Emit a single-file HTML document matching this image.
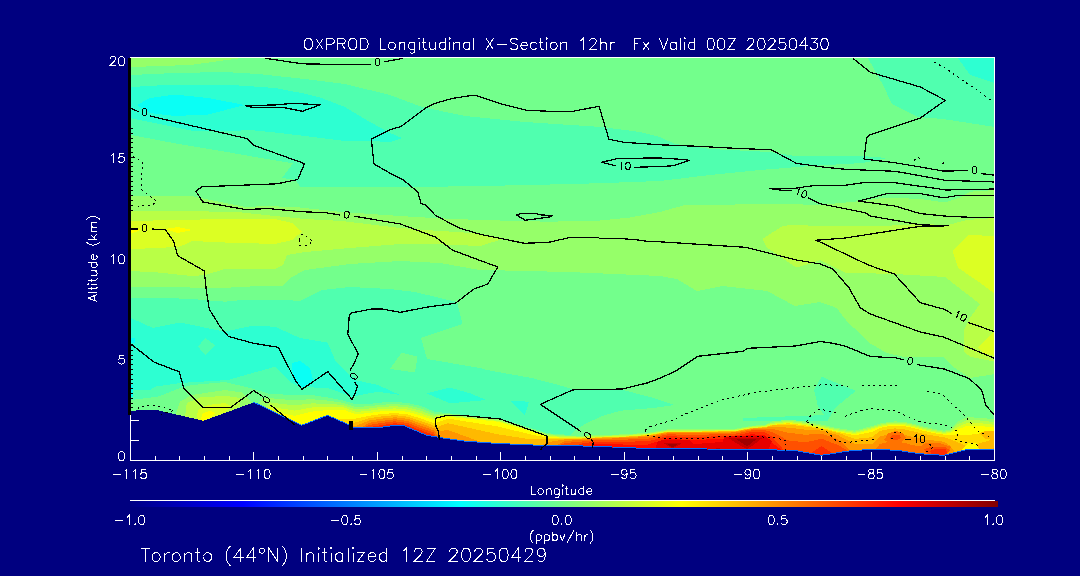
<!DOCTYPE html><html><head><meta charset="utf-8"><title>OXPROD X-Section</title>
<style>html,body{margin:0;padding:0;background:#000080;overflow:hidden}svg{display:block}text{font-family:"Liberation Sans",sans-serif;fill:#fff}</style></head><body>
<svg width="1080" height="576" viewBox="0 0 1080 576">
<rect x="0" y="0" width="1080" height="576" fill="#000080"/>
<defs><clipPath id="pc"><rect x="131" y="58" width="863" height="402"/></clipPath>
<linearGradient id="cb" x1="0" x2="1" y1="0" y2="0">
<stop offset="0" stop-color="#000083"/>
<stop offset="0.13" stop-color="#0000ff"/>
<stop offset="0.38" stop-color="#00ffff"/>
<stop offset="0.635" stop-color="#ffff00"/>
<stop offset="0.885" stop-color="#ff0000"/>
<stop offset="1" stop-color="#800000"/>
</linearGradient></defs>
<g clip-path="url(#pc)" shape-rendering="crispEdges">
<rect x="131" y="58" width="864" height="402" fill="#73ff8c"/>
<polygon fill="#96ff69" points="131,58 242,58 190,65 131,67"/>
<polygon fill="#50ffaf" points="131,75 175,73 225,72 258,74 305,79 345,84 390,95 422,107 465,116 525,122 602,127 640,132 660,137 675,144 710,149 770,152 795,156 862,156 887,158 863,163 810,166 760,170 710,175 660,181 597,183.3 530,185 480,186 415,187 350,187 300,187 296,180 282,178 293,163.3 258,157.5 225,151.7 175,143.3 131,135"/>
<polygon fill="#2dffd2" points="131,87 175,84.5 225,84.5 275,88 305,93.7 320,97.5 345,107 370,122 390,133 402,138 390,142 370,141 345,141 305,136 275,132.5 250,130 232,131 210,131 192,130.8 160,124 131,118.3"/>
<polygon fill="#0afff5" points="137,105 150,98 175,94.5 208,98 245,105 208,114.5 175,116 150,113"/>
<polygon fill="#50ffaf" points="868,58 883,85 892,104 918,117 943,119 995,127 995,58"/>
<polygon fill="#2dffd2" points="958,58 970,75 995,83 995,58"/>
<polygon fill="#96ff69" points="131,196 192,196 200,198 225,203 245,207 268,206 300,207.5 342,212 400,216 433,218 480,220 547,221.7 597,220.8 630,217.5 660,212 685,205 785,204 820,205 858,201.3 887,197.5 920,199 945,202.5 962,196.7 970,191.7 995,190 995,374 970,378 953,366.7 943,356.7 903,356.7 886.7,353 870,343.3 846.7,321 836.7,308 820,302 795,306 767,291 722,286 697,291 677,279 660,276 580,272.5 530,271 480,270 440,263 400,261 350,264 305,270 290,278 283,285.8 241.7,286.7 225,288 205,288 166.7,286.7 131,287.5"/>
<polygon fill="#b9ff46" points="131,211 192,211 242,212.5 275,216 305,219 342,221 400,228 433,230.5 480,233.5 503,239 480,246 433,244 400,244 350,248 305,252 287,255 283,265 275,269 225,269 205,275 192,276 158,272.5 131,271"/>
<polygon fill="#b9ff46" points="762.5,239 782.5,226 795,224.5 820,226.5 887,225.8 920,224 948,225 967,220 995,218 995,361.7 970,356.7 964,351.7 964,330 970,318 980,304 945,277 895,274 845,272.7 820,260 810,263.7 796,267.5 767,247.5"/>
<polygon fill="#dcff23" points="952.5,251 968,235 995,236 995,294 981.7,284 958,267.7"/>
<polygon fill="#dcff23" points="995,330 978,347 983,353 995,356"/>
<polygon fill="#dcff23" points="131,221 175,220 225,219 275,219 292,223 302,231.7 292,240 275,244 225,242.5 192,241 180,246.7 158,248 131,249"/>
<polygon fill="#ffff00" points="165,229 178,227 192,230 178,233"/>
<polygon fill="#ffff00" points="131,228.3 141,228.6 139,231 134,232.6 131,232.6"/>
<polygon fill="#50ffaf" points="131,297.5 166.7,298 191.7,299 225,301.7 241.7,300 285,300 300,301 322,290 350,287 390,289 415,292 457,302 462.5,324 421,338 427,359 480,368 486.7,370 531.7,378 565,386.7 573,389.7 623,390 650,397 675,405 653,408 620,410.8 603,415.8 586.7,423 575,430 568,437 568,455 131,455"/>
<polygon fill="#2dffd2" points="131,318 153,328 180,322.5 225,331.7 251.7,325.8 275,326.7 300,338 327.5,342.5 335.8,361.7 350,375 355,380 378,385 400,395 378,391.7 351.7,396.7 328,388 300,387 291.7,383 281.7,373 275,366.7 228,380 180,383 155,386.7 150,390 131,390"/>
<polygon fill="#0afff5" points="292,363 300,361 310,368 313,380 303,388 293,380"/>
<polygon fill="#0afff5" points="131,338 135,338 135,343 131,343"/>
<polygon fill="#0afff5" points="131,385 133,385 133,397 131,397"/>
<polygon fill="#50ffaf" points="198,346.7 205,338 215,345 205,355"/>
<polygon fill="#73ff8c" points="390,369 401.7,352.5 417.5,356.7 415,372.5"/>
<polygon fill="#2dffd2" points="426.7,393.3 450,387.5 470,393.3 486.7,400 450,403.3"/>
<polygon fill="#2dffd2" points="510,400.8 529,401.7 525,415"/>
<polygon fill="#50ffaf" points="814,390 821.7,376.7 855.8,390.8 835,408 828,420 818,406.7"/>
<polygon fill="#50ffaf" points="743,418 828,415 828,421 800,421.5 743,420.5"/>
<polygon fill="#73ff8c" points="131,400 158,396.7 180,388 192,385 225,382 250,388 270,394 295,395 311.7,395 328,397.5 343,400.5 356,404.5 369,404 382,402.5 395,402 408,403 421,406 434,411.5 448,413.3 498,418.3 531.7,428.3 548,433.3 565,434.6 595,434.5 623,433.7 648,432 662,431 662,461 131,461"/>
<polygon fill="#96ff69" points="256,407.8 262,398.3 270,398.1 278,399 295,400.2 311.7,399.2 328,400.6 343,402.8 356,407 369,406.2 382,404.7 395,404.1 408,405.2 421,408.4 434,413.7 438,413.5 448,414.1 498,419.1 531.7,429.1 548,434.1 565,435.5 581.7,435.8 595,435.2 623,434.4 648,432.8 668,429.4 690,429.4 735,428.8 751.7,425.8 765,424.8 771.7,421.6 788,419.6 805,421.6 821.7,424.6 838,428.3 855,430.6 871.7,426.1 880,423.6 888,422.1 895,421.4 905,422.1 913,423.6 923.7,426.6 935,429.1 944,430.6 950,429.6 958,421.2 967.5,417.2 980,417.8 995,419.4 995,462 256,462"/>
<polygon fill="#b9ff46" points="256,407.8 262,410.7 270,402.3 278,403.5 295,405.4 311.7,403.4 328,403.8 343,405 356,409.4 369,408.5 382,406.9 395,406.2 408,407.4 421,410.9 434,415.9 438,415 448,415 498,420 531.7,430 548,435 565,436.3 581.7,436.6 595,436 623,435.2 648,433.5 668,430.2 690,430.2 735,429.5 751.7,426.5 765,425.5 771.7,422.8 788,420.8 805,422.8 821.7,425.8 838,429.4 855,431.8 871.7,427.2 880,424.8 888,423.2 895,422.6 905,423.2 913,424.8 923.7,427.8 935,430.2 944,431.8 950,430.8 958,424 967.5,420 980,420.5 995,422.1 995,462 256,462"/>
<polygon fill="#dcff23" points="256,407.8 262,410.7 270,406.4 278,408 295,410.6 311.7,407.5 328,406.9 343,407.2 356,411.9 369,410.8 382,409 395,408.4 408,409.6 421,413.3 434,418.1 438,416.5 448,415.9 498,420.9 531.7,430.9 548,435.9 565,437.1 581.7,437.4 595,436.8 623,435.9 648,434.2 668,430.9 690,430.9 735,430.2 751.7,427.2 765,426.2 771.7,423.9 788,421.9 805,423.9 821.7,426.9 838,430.6 855,432.9 871.7,428.4 880,425.9 888,424.4 895,423.7 905,424.4 913,425.9 923.7,428.9 935,431.4 944,432.9 950,431.9 958,426.8 967.5,422.8 980,423.2 995,424.9 995,462 256,462"/>
<polygon fill="#ffff00" points="256,407.8 262,410.7 270,414.5 278,412.5 295,415.8 311.7,411.7 328,410 343,409.5 356,414.4 369,413 382,411.2 395,410.5 408,411.8 421,415.7 434,420.3 438,418 448,416.7 498,421.7 531.7,431.7 548,436.7 565,438 581.7,438.3 595,437.5 623,436.7 648,435 668,431.7 690,431.7 735,431 751.7,428 765,427 771.7,425 788,423 805,425 821.7,428 838,431.7 855,434 871.7,429.5 880,427 888,425.5 895,424.8 905,425.5 913,427 923.7,430 935,432.5 944,434 950,433 958,429.5 967.5,425.5 980,426 995,427.6 995,462 256,462"/>
<polygon fill="#ffdc00" points="256,407.8 262,410.7 270,414.5 278,418.4 295,426.6 311.7,425.9 328,420 343,418.9 356,418.6 369,415.8 382,414 395,413 408,414.5 421,418.6 434,423.2 438,422.4 448,418.6 498,426.5 531.7,434.7 548,437.5 565,438.1 581.7,438.3 595,437.5 623,436.7 648,435 668,431.7 690,431.7 735,431 751.7,428 765,427 771.7,425.1 788,423.3 805,425.3 821.7,428.1 838,431.9 855,435.4 871.7,432 880,428 888,426.3 895,425.6 905,426.4 913,428 923.7,430.9 935,433.3 944,434.7 950,434.8 958,434.4 967.5,435.1 980,433.3 995,431.6 995,462 256,462"/>
<polygon fill="#ffb900" points="256,407.8 262,410.7 270,414.5 278,418.4 295,426.6 311.7,425.9 328,420 343,426.7 356,422.3 369,418.2 382,416.3 395,415.2 408,416.8 421,421.1 434,425.7 438,426.7 448,423.2 498,434.3 531.7,439.5 548,439.4 565,438.5 581.7,438.5 595,437.7 623,436.9 648,435.3 668,431.9 690,432 735,431.2 751.7,428.2 765,427.3 771.7,425.5 788,424.6 805,426.6 821.7,428.8 838,432.9 855,438.9 871.7,437.2 880,431.1 888,429.2 895,428.4 905,429.5 913,431.3 923.7,434 935,435.9 944,437.3 950,439.1 958,442.4 967.5,446.5 980,443.2 995,438.6 995,462 256,462"/>
<polygon fill="#ff9600" points="256,407.8 262,410.7 270,414.5 278,418.4 295,426.6 311.7,425.9 328,420 343,426.7 356,425.8 369,420.5 382,418.6 395,417.3 408,418.9 421,423.5 434,428.1 438,431.1 448,430.1 498,448 531.7,449.4 548,442.2 565,439.4 581.7,439.1 595,438.1 623,437.4 648,435.9 668,432.3 690,432.5 735,431.6 751.7,428.6 765,427.8 771.7,426.6 788,427.6 805,429.6 821.7,430.6 838,435.2 855,444.2 871.7,444.5 880,436.4 888,434.4 895,433.5 905,435 913,437 923.7,439.3 935,440.6 944,441.8 950,445.7 958,456.3 967.5,454 980,453.9 995,447.7 995,462 256,462"/>
<polygon fill="#ff7300" points="256,407.8 262,410.7 270,414.5 278,418.4 295,426.6 311.7,425.9 328,420 343,426.7 356,431.5 369,422.8 382,420.8 395,419.3 408,421 421,425.9 434,430.4 438,435.5 448,443.2 498,448 531.7,449.4 548,449.9 565,440.9 581.7,440 595,438.8 623,438.3 648,437 668,433 690,433.5 735,432.4 751.7,429.3 765,428.8 771.7,428.6 788,432.7 805,434.7 821.7,433.8 838,439.2 855,455 871.7,453.7 880,443.9 888,442 895,441.1 905,443 913,445.2 923.7,447.1 935,447.5 944,448.4 950,458.3 958,456.3 967.5,454 980,453.9 995,453.7 995,462 256,462"/>
<polygon fill="#ff5000" points="256,407.8 262,410.7 270,414.5 278,418.4 295,426.6 311.7,425.9 328,420 343,426.7 356,431.5 369,424.9 382,422.9 395,421.3 408,423.1 421,428.1 434,432.6 438,441.7 448,443.2 498,448 531.7,449.4 548,449.9 565,443.1 581.7,441.5 595,440 623,439.7 648,438.8 668,434.2 690,435.1 735,433.7 751.7,430.4 765,430.3 771.7,431.8 788,440.4 805,442.3 821.7,438.8 838,445 855,455 871.7,453.7 880,454.1 888,454.4 895,454.7 905,456 913,457.2 923.7,458.5 935,459.2 944,459.8 950,458.3 958,456.3 967.5,454 980,453.9 995,453.7 995,462 256,462"/>
<polygon fill="#ff2d00" points="256,407.8 262,410.7 270,414.5 278,418.4 295,426.6 311.7,425.9 328,420 343,426.7 356,431.5 369,427.1 382,425 395,423.2 408,425.1 421,430.3 434,434.8 438,441.7 448,443.2 498,448 531.7,449.4 548,449.9 565,450.2 581.7,443.6 595,441.6 623,441.7 648,441.3 668,435.9 690,437.4 735,435.5 751.7,432 765,432.5 771.7,436.3 788,454.9 805,456.8 821.7,446.1 838,457.1 855,455 871.7,453.7 880,454.1 888,454.4 895,454.7 905,456 913,457.2 923.7,458.5 935,459.2 944,459.8 950,458.3 958,456.3 967.5,454 980,453.9 995,453.7 995,462 256,462"/>
<polygon fill="#ff0a00" points="256,407.8 262,410.7 270,414.5 278,418.4 295,426.6 311.7,425.9 328,420 343,426.7 356,431.5 369,431.5 382,427.1 395,425.1 408,427.1 421,432.5 434,441 438,441.7 448,443.2 498,448 531.7,449.4 548,449.9 565,450.2 581.7,450.5 595,443.8 623,444.5 648,444.6 668,438.1 690,440.4 735,437.9 751.7,434.2 765,435.5 771.7,442.4 788,454.9 805,456.8 821.7,459.8 838,457.1 855,455 871.7,453.7 880,454.1 888,454.4 895,454.7 905,456 913,457.2 923.7,458.5 935,459.2 944,459.8 950,458.3 958,456.3 967.5,454 980,453.9 995,453.7 995,462 256,462"/>
<polygon fill="#e60000" points="256,407.8 262,410.7 270,414.5 278,418.4 295,426.6 311.7,425.9 328,420 343,426.7 356,431.5 369,431.5 382,431.5 395,429.8 408,431.9 421,437.4 434,441 438,441.7 448,443.2 498,448 531.7,449.4 548,449.9 565,450.2 581.7,450.5 595,450.7 623,452 648,453 668,441.1 690,444.4 735,441 751.7,437 765,439.3 771.7,454.3 788,454.9 805,456.8 821.7,459.8 838,457.1 855,455 871.7,453.7 880,454.1 888,454.4 895,454.7 905,456 913,457.2 923.7,458.5 935,459.2 944,459.8 950,458.3 958,456.3 967.5,454 980,453.9 995,453.7 995,462 256,462"/>
<polygon fill="#c30000" points="256,407.8 262,410.7 270,414.5 278,418.4 295,426.6 311.7,425.9 328,420 343,426.7 356,431.5 369,431.5 382,431.5 395,429.8 408,431.9 421,437.4 434,441 438,441.7 448,443.2 498,448 531.7,449.4 548,449.9 565,450.2 581.7,450.5 595,450.7 623,452 648,453 668,444.7 690,453.4 735,445 751.7,440.5 765,444.1 771.7,454.3 788,454.9 805,456.8 821.7,459.8 838,457.1 855,455 871.7,453.7 880,454.1 888,454.4 895,454.7 905,456 913,457.2 923.7,458.5 935,459.2 944,459.8 950,458.3 958,456.3 967.5,454 980,453.9 995,453.7 995,462 256,462"/>
<polygon fill="#a00000" points="256,407.8 262,410.7 270,414.5 278,418.4 295,426.6 311.7,425.9 328,420 343,426.7 356,431.5 369,431.5 382,431.5 395,429.8 408,431.9 421,437.4 434,441 438,441.7 448,443.2 498,448 531.7,449.4 548,449.9 565,450.2 581.7,450.5 595,450.7 623,452 648,453 668,453.2 690,453.4 735,453.7 751.7,444.8 765,454 771.7,454.3 788,454.9 805,456.8 821.7,459.8 838,457.1 855,455 871.7,453.7 880,454.1 888,454.4 895,454.7 905,456 913,457.2 923.7,458.5 935,459.2 944,459.8 950,458.3 958,456.3 967.5,454 980,453.9 995,453.7 995,462 256,462"/>
<polygon fill="#96ff69" points="175,416 180,401.7 191.7,395 225,390 241.7,392.5 251.7,402.5 240,410 203,421"/>
<polygon fill="#b9ff46" points="185,417.5 186.7,403 200,397.5 225,395.8 240,398 240,406.7 233,410 203,421"/>
<polygon fill="#dcff23" points="196.7,419 198,410 208,405 225,403 231.7,406.7 225,412.5 203,421"/>
<polygon fill="#ffff00" points="201,420 202,414 210,410.5 215,413 212,417 203,421"/>
<polygon fill="#e60000" points="655,449 658,441 668,439.5 690,440 697,449"/>
<polygon fill="#c30000" points="662,442.5 683,442.5 672.5,448.5"/>
<polygon fill="#e60000" points="720,450 724,437.5 735,435.5 765,436 772,441 768,450"/>
<polygon fill="#c30000" points="727.4,437.5 763,437.5 752,446 746.7,449 741,446"/>
<polygon fill="#a00000" points="735,438.5 757,438.5 747,446.5"/>
<polygon fill="#ff7300" points="884,440 888,433.5 896,431 903,433 906,438 900,443 890,443.5"/>
<polygon fill="#ff5000" points="889,438 893,434.5 899,434.5 901,438 896,440.5"/>
<polygon fill="#ff7300" points="918,448 925,443.5 940,443 951,447 949,452 944,456 925,455"/>
<polygon fill="#ff5000" points="924,449.5 931,446.5 945,447 950,450 944,456 928,455"/>
<polygon fill="#ff2d00" points="930,451 936,448.5 946,449.5 947,453 944,456 932,455"/>
<polygon fill="#ffff00" points="962,449.5 968,443 977,443.5 979,450"/>
<polygon fill="#ffb900" points="979,433 986,431 995,431.5 995,440 985,439"/>
<polygon fill="#a00000" points="666,443.5 679,443.5 672.5,447.5"/>
</g>
<polyline shape-rendering="crispEdges" fill="none" stroke="#0a70ff" stroke-width="1" points="253.3,402 301.7,425.3 327.5,415.3 350,425.3 351.7,427 383,427 395,425.3 403,425.3 415,430.3 426.7,435.3 440,437.5 465,441.2 498,443.5 540,445.3 595,446.2 623,447.5 648,448.5 765,449.5 796.7,450.8 821.7,455.3 846.7,451.2 871.7,449.2 896.7,450.3 920.8,453.8 944,455.3 967.5,449.5 995,449.2"/>
<polygon shape-rendering="crispEdges" fill="#000080" points="131,410.8 145,410 158.3,410.3 203.5,420.8 253.3,402.5 301.7,425.8 327.5,415.8 350,425.8 351.7,427.5 383,427.5 395,425.8 403,425.8 415,430.8 426.7,435.8 440,438 465,441.7 498,444 540,445.8 595,446.7 623,448 648,449 765,450 796.7,451.3 821.7,455.8 846.7,451.7 871.7,449.7 896.7,450.8 920.8,454.3 944,455.8 967.5,450 995,449.7 994,460 131,460"/>
<g fill="none" stroke="#000" stroke-width="1.25" stroke-linejoin="round" shape-rendering="crispEdges" clip-path="url(#pc)"><g transform="translate(0.3,0.3)">
<polyline points="265,58 302,63.5 355,64.5 371,64.5"/>
<polyline points="384,61.5 403,58"/>
<polyline points="245,105.5 278,104.5 292,103 320,104.5 302,111 282,107 252,107 245,105.5"/>
<polyline points="131,228.7 138,228.7"/>
<polyline points="151.7,228.7 165,229.5 173.3,240.8 177.5,255.5 204,270.5 206,290 209,309 220,326.7 228,336 253,343 278,347 295,380 301.7,389 327.5,371.3 351.7,399 355,393 357,386 354.5,382"/>
<polyline points="349.7,370 353.3,364 358,353.7 347.5,334 349,315 351.7,312.5 371.7,308.7 381.7,308.7 400,312 427.5,306.7 455,303 473.7,288.7 487.5,283.7 497.5,266.7 452.5,250 435,236.7 400,223.7 353.3,215.8"/>
<polyline points="340,214.7 325.8,212.5 300,211.3 268.3,208.3 245,209.2 202.5,201.7 195.5,190.8 201.7,186.5 276.7,183.5 297.5,179.2 304.2,163.3 253.3,145 246.7,138.3 150,115.8"/>
<polyline points="139,111.7 131,108.3"/>
<polyline points="131,344 154,362 179,371.5 183.3,387.5 203.3,407.5 230,407.5 253.3,390.3 263,396.5"/>
<polyline points="270,404.5 295,425"/>
<polyline points="995,181.7 945,180 895,171 845,169 822.5,166.7 796,163 771,149.5 735,148 697.5,146 660,144.5 623.7,142 608.7,139 598.7,106 572.5,111 550,111 526,110 501,103.7 477.5,95.7 472.5,95 452.5,98 435,103 425,108 401,126 390,129.5 371,138.7 373.7,163.7 390,173 403.5,180 417.5,191.7 420.8,203.3 425.8,205 435,215 458.3,227.5 480,234 524,243 548.3,242 568.3,237.5 598.3,237.5 600,238.3 621.7,238.3 638.3,239.7 648.3,241.3 660,241.5 745,247 795,259.5 820,263.7 832.5,268.7 848.7,287.5 860,307.5 870,313.7 920,331.7 943,336.7 995,358.3"/>
<polyline points="634,167 660,166.2 672.5,165.5 689,160 680,159 660,157.7 618.7,158 601,162 613,165 616,165.5"/>
<polyline points="516.3,214.7 520.8,213.3 536.7,213.3 539,214.5 552.5,215.3 549,216.7 525,220 516.3,214.7"/>
<polyline points="852.5,58 870,72 920,86.7 945,100 920,117.8 868.3,135 866.3,138 863.7,158.7 895,162.5 920,166.7 943.3,170.8 967.5,170.3"/>
<polyline points="980.8,173.3 995,175"/>
<polyline points="995,188.7 945,189.7 936.7,188.3 895,182.5 862.5,182.5 845,185 812.6,185.4 804.4,186.5 794.8,188 769.6,188.3 780,189.8 791.5,190.5"/>
<polyline points="807.5,197.5 820,203.5 865,212.5 870,215.7 920,224.5 948,225.5 920,226 845,237.7 815,240 820,241.8 868.7,265 894,273.6 920,302.4 944,309 952,313.5"/>
<polyline points="967.5,322 995,331.7"/>
<polyline points="995,195 958.3,195 943.3,197.5 920,193.3 886.7,193.3 858.3,200.8 895,205.8 920,213.3 945,215.8 970,217 995,217.5"/>
<polyline points="592,448 593,442 590.5,439"/>
<polyline points="581,431.5 540,404 572.5,389.6 622.5,388.7 647.5,382.5 660,377.7 675,371 697.5,356 742.5,351 747.5,348 795,345.7 820,341.2 832.5,343 845,345.8 870,356.2 895,357.5 904,359.7"/>
<polyline points="916.5,364.3 944,368.7 969,378.3 981.5,390 985.5,405 993.5,414"/>
<polyline points="439,440 438.3,431.7 435.8,426.7 435,418 445.8,415.3 463.3,415.3 486.7,417.5 500,418.7 546.7,435.8 546.7,443.3 541.7,447.5 540,450"/>
</g></g>
<g fill="none" stroke="#000" stroke-width="1" stroke-dasharray="2,3.5" shape-rendering="crispEdges">
<polyline points="133,156.7 142.5,161.7 141,185 141.7,190 156.7,201.3 152.5,204.7 137.5,206.3"/>
<polyline points="299,240 302,234 309,238 313,241.5 307,245 300,246 299,240"/>
<polyline points="934,62 947,69 959,78 976.5,89.5 993,102"/>
<polyline points="914,160.3 918.3,157 921.7,162"/>
<polyline points="941.7,163.3 946.7,162.5"/>
<polyline points="138.5,409 138.5,406.7 153,405.3 164,407 173.3,410.5 160.8,414.5"/>
<polyline points="645,430 650,426.7 673,420 683,415 701.7,407.5 725,399 740,395.8 758,392 784,389 803,387 824,384.5 848,386.3"/>
<polyline points="862.5,385.5 898,386"/>
<polyline points="927.4,391.2 942,394.3 953,405 964.5,415.3 977,430.3 990.8,437.6"/>
<polyline points="645,430 647.5,435 663.3,438.3 697.5,439 723.3,436.3 753.3,436.3 776.7,438 786.7,440.8 785,448.3 785.8,452.5"/>
<polyline points="806.7,421.7 809,417.5 817.5,410 822.5,409.5 836.7,413.3"/>
<polyline points="845,416.3 860,410.8 870,408.7 894,410.5 908.3,416.7 921.7,422.5 941.2,424.2 951.4,427.4 958.7,432.2 955.8,440 971,443.4 981.3,446.3"/>
<polyline points="806.7,421.7 816.7,427.5 826.7,431.7 833.3,437.5 836.7,441.3 846.7,442.5 866.7,440.3 876.7,439"/>
<polyline points="929.6,444 933.2,447.3 926,452.4"/>
<polyline points="894,432.5 901,432.5"/>
<polyline points="891,438.3 897,438.3"/>
</g>
<rect shape-rendering="crispEdges" x="349" y="421" width="4" height="9" fill="#000"/>
<g shape-rendering="crispEdges" fill="#fff">
<rect x="130" y="57" width="865" height="1"/>
<rect x="130" y="460" width="865" height="1"/>
<rect x="994" y="57" width="1" height="404"/>
<rect x="130" y="57" width="1" height="404"/>
<rect x="130" y="452" width="1" height="8"/>
<rect x="155" y="456" width="1" height="4"/>
<rect x="179" y="456" width="1" height="4"/>
<rect x="204" y="456" width="1" height="4"/>
<rect x="229" y="456" width="1" height="4"/>
<rect x="253" y="452" width="1" height="8"/>
<rect x="278" y="456" width="1" height="4"/>
<rect x="303" y="456" width="1" height="4"/>
<rect x="327" y="456" width="1" height="4"/>
<rect x="352" y="456" width="1" height="4"/>
<rect x="377" y="452" width="1" height="8"/>
<rect x="402" y="456" width="1" height="4"/>
<rect x="426" y="456" width="1" height="4"/>
<rect x="451" y="456" width="1" height="4"/>
<rect x="476" y="456" width="1" height="4"/>
<rect x="500" y="452" width="1" height="8"/>
<rect x="525" y="456" width="1" height="4"/>
<rect x="550" y="456" width="1" height="4"/>
<rect x="574" y="456" width="1" height="4"/>
<rect x="599" y="456" width="1" height="4"/>
<rect x="624" y="452" width="1" height="8"/>
<rect x="648" y="456" width="1" height="4"/>
<rect x="673" y="456" width="1" height="4"/>
<rect x="698" y="456" width="1" height="4"/>
<rect x="722" y="456" width="1" height="4"/>
<rect x="747" y="452" width="1" height="8"/>
<rect x="772" y="456" width="1" height="4"/>
<rect x="797" y="456" width="1" height="4"/>
<rect x="821" y="456" width="1" height="4"/>
<rect x="846" y="456" width="1" height="4"/>
<rect x="871" y="452" width="1" height="8"/>
<rect x="895" y="456" width="1" height="4"/>
<rect x="920" y="456" width="1" height="4"/>
<rect x="945" y="456" width="1" height="4"/>
<rect x="969" y="456" width="1" height="4"/>
<rect x="994" y="452" width="1" height="8"/>
<rect x="131" y="460" width="16" height="1"/>
<rect x="131" y="440" width="8" height="1"/>
<rect x="131" y="420" width="8" height="1"/>
</g>
<rect shape-rendering="crispEdges" x="128" y="58" width="3" height="357" fill="#000"/>
<g shape-rendering="crispEdges" stroke="#000" stroke-width="2" stroke-dasharray="1,3.8" fill="none"><path d="M132 128V212M132 345V411"/></g>
<rect shape-rendering="crispEdges" x="130" y="501" width="868" height="6" fill="url(#cb)"/>
<rect shape-rendering="crispEdges" x="130" y="500" width="865" height="1" fill="#fff"/>
<g fill="none" stroke="#fff" stroke-width="1" shape-rendering="crispEdges">
<path d="M304.2 42.6L304.2 45.3L304.7 46.9L305.2 47.9L306.3 49.0L307.3 49.5L309.5 49.5L310.5 49.0L311.6 47.9L312.1 46.9L312.6 45.3L312.6 42.6L312.1 41.1L311.6 40.0L310.5 39.0L309.5 38.4L307.3 38.4L306.3 39.0L305.2 40.0L304.7 41.1L304.2 42.6M315.8 38.4L323.2 49.5M315.8 49.5L323.2 38.4M326.9 44.2L326.9 38.4L331.6 38.4L333.2 39.0L333.7 39.5L334.2 40.5L334.2 42.1L333.7 43.2L333.2 43.7L331.6 44.2L326.9 44.2M326.9 44.2L326.9 49.5M337.9 43.7L337.9 38.4L342.7 38.4L344.2 39.0L344.8 39.5L345.3 40.5L345.3 41.6L344.8 42.6L344.2 43.2L342.7 43.7L341.6 43.7M337.9 43.7L337.9 49.5M337.9 43.7L341.6 43.7M341.6 43.7L345.3 49.5M348.5 42.6L348.5 45.3L349.0 46.9L349.5 47.9L350.6 49.0L351.6 49.5L353.7 49.5L354.8 49.0L355.8 47.9L356.4 46.9L356.9 45.3L356.9 42.6L356.4 41.1L355.8 40.0L354.8 39.0L353.7 38.4L351.6 38.4L350.6 39.0L349.5 40.0L349.0 41.1L348.5 42.6M360.6 38.4L360.6 49.5L364.3 49.5L365.9 49.0L366.9 47.9L367.4 46.9L368.0 45.3L368.0 42.6L367.4 41.1L366.9 40.0L365.9 39.0L364.3 38.4L360.6 38.4M380.1 38.4L380.1 49.5L386.4 49.5M388.5 45.3L388.5 46.3L389.1 47.9L390.1 49.0L391.2 49.5L392.8 49.5L393.8 49.0L394.9 47.9L395.4 46.3L395.4 45.3L394.9 43.7L393.8 42.6L392.8 42.1L391.2 42.1L390.1 42.6L389.1 43.7L388.5 45.3M399.1 42.1L399.1 44.2M399.1 44.2L399.1 49.5M399.1 44.2L400.7 42.6L401.7 42.1L403.3 42.1L404.3 42.6L404.9 44.2L404.9 49.5M410.1 52.7L411.2 53.2L412.8 53.2L413.8 52.7L414.4 52.1L414.9 50.6L414.9 47.9M414.9 42.1L414.9 43.7M414.9 43.7L413.8 42.6L412.8 42.1L411.2 42.1L410.1 42.6L409.1 43.7L408.6 45.3L408.6 46.3L409.1 47.9L410.1 49.0L411.2 49.5L412.8 49.5L413.8 49.0L414.9 47.9M414.9 43.7L414.9 47.9M419.1 42.1L419.1 49.5M418.6 38.4L419.1 37.9L419.6 38.4L419.1 39.0L418.6 38.4M422.3 42.1L423.9 42.1M423.9 38.4L423.9 42.1M423.9 42.1L423.9 47.4L424.4 49.0L425.4 49.5L426.5 49.5M423.9 42.1L426.0 42.1M429.7 42.1L429.7 47.4L430.2 49.0L431.2 49.5L432.8 49.5L433.9 49.0L435.5 47.4M435.5 42.1L435.5 47.4M435.5 47.4L435.5 49.5M445.5 38.4L445.5 43.7M445.5 43.7L444.4 42.6L443.4 42.1L441.8 42.1L440.7 42.6L439.7 43.7L439.1 45.3L439.1 46.3L439.7 47.9L440.7 49.0L441.8 49.5L443.4 49.5L444.4 49.0L445.5 47.9M445.5 43.7L445.5 47.9M445.5 47.9L445.5 49.5M449.7 42.1L449.7 49.5M449.2 38.4L449.7 37.9L450.2 38.4L449.7 39.0L449.2 38.4M453.9 42.1L453.9 44.2M453.9 44.2L453.9 49.5M453.9 44.2L455.5 42.6L456.5 42.1L458.1 42.1L459.2 42.6L459.7 44.2L459.7 49.5M469.7 42.1L469.7 43.7M469.7 43.7L468.7 42.6L467.6 42.1L466.0 42.1L465.0 42.6L463.9 43.7L463.4 45.3L463.4 46.3L463.9 47.9L465.0 49.0L466.0 49.5L467.6 49.5L468.7 49.0L469.7 47.9M469.7 43.7L469.7 47.9M469.7 47.9L469.7 49.5M473.9 38.4L473.9 49.5M486.1 38.4L493.4 49.5M486.1 49.5L493.4 38.4M497.1 44.8L506.6 44.8M510.3 47.9L511.4 49.0L513.0 49.5L515.1 49.5L516.6 49.0L517.7 47.9L517.7 46.3L517.2 45.3L516.6 44.8L515.6 44.2L512.4 43.2L511.4 42.6L510.8 42.1L510.3 41.1L510.3 40.0L511.4 39.0L513.0 38.4L515.1 38.4L516.6 39.0L517.7 40.0M520.9 45.3L520.9 46.3L521.4 47.9L522.4 49.0L523.5 49.5L525.1 49.5L526.1 49.0L527.2 47.9M520.9 45.3L521.4 43.7L522.4 42.6L523.5 42.1L525.1 42.1L526.1 42.6L526.7 43.2L527.2 44.2L527.2 45.3L520.9 45.3M536.7 43.7L535.6 42.6L534.6 42.1L533.0 42.1L531.9 42.6L530.9 43.7L530.4 45.3L530.4 46.3L530.9 47.9L531.9 49.0L533.0 49.5L534.6 49.5L535.6 49.0L536.7 47.9M539.3 42.1L540.9 42.1M540.9 38.4L540.9 42.1M540.9 42.1L540.9 47.4L541.4 49.0L542.5 49.5L543.5 49.5M540.9 42.1L543.0 42.1M546.7 42.1L546.7 49.5M546.2 38.4L546.7 37.9L547.2 38.4L546.7 39.0L546.2 38.4M550.4 45.3L550.4 46.3L550.9 47.9L552.0 49.0L553.0 49.5L554.6 49.5L555.7 49.0L556.7 47.9L557.2 46.3L557.2 45.3L556.7 43.7L555.7 42.6L554.6 42.1L553.0 42.1L552.0 42.6L550.9 43.7L550.4 45.3M560.9 42.1L560.9 44.2M560.9 44.2L560.9 49.5M560.9 44.2L562.5 42.6L563.6 42.1L565.1 42.1L566.2 42.6L566.7 44.2L566.7 49.5M580.4 40.5L581.5 40.0L583.1 38.4L583.1 49.5M589.9 41.1L589.9 40.5L590.5 39.5L591.0 39.0L592.0 38.4L594.1 38.4L595.2 39.0L595.7 39.5L596.3 40.5L596.3 41.6L595.7 42.6L594.7 44.2L589.4 49.5L596.8 49.5M600.5 38.4L600.5 44.2M600.5 44.2L600.5 49.5M600.5 44.2L602.0 42.6L603.1 42.1L604.7 42.1L605.7 42.6L606.3 44.2L606.3 49.5M610.5 42.1L610.5 45.3M610.5 45.3L610.5 49.5M610.5 45.3L611.0 43.7L612.1 42.6L613.1 42.1L614.7 42.1M634.2 43.7L634.2 38.4L641.1 38.4M634.2 43.7L634.2 49.5M634.2 43.7L638.4 43.7M643.2 42.1L649.0 49.5M643.2 49.5L649.0 42.1M659.5 38.4L661.1 42.6M659.5 38.4L662.2 45.3M659.5 38.4L663.7 49.5M661.1 42.6L662.2 45.3M661.1 42.6L663.7 49.5M662.2 45.3L663.7 49.5M663.7 49.5L665.3 45.3M663.7 49.5L666.4 42.6M663.7 49.5L667.9 38.4M665.3 45.3L666.4 42.6M665.3 45.3L667.9 38.4M666.4 42.6L667.9 38.4M676.4 42.1L676.4 43.7M676.4 43.7L675.3 42.6L674.3 42.1L672.7 42.1L671.6 42.6L670.6 43.7L670.1 45.3L670.1 46.3L670.6 47.9L671.6 49.0L672.7 49.5L674.3 49.5L675.3 49.0L676.4 47.9M676.4 43.7L676.4 47.9M676.4 47.9L676.4 49.5M680.6 38.4L680.6 49.5M684.8 42.1L684.8 49.5M684.3 38.4L684.8 37.9L685.3 38.4L684.8 39.0L684.3 38.4M694.8 38.4L694.8 43.7M694.8 43.7L693.8 42.6L692.7 42.1L691.1 42.1L690.1 42.6L689.0 43.7L688.5 45.3L688.5 46.3L689.0 47.9L690.1 49.0L691.1 49.5L692.7 49.5L693.8 49.0L694.8 47.9M694.8 43.7L694.8 47.9M694.8 47.9L694.8 49.5M707.0 43.2L707.0 44.8L707.5 47.4L708.5 49.0L710.1 49.5L711.2 49.5L712.8 49.0L713.8 47.4L714.3 44.8L714.3 43.2L713.8 40.5L712.8 39.0L711.2 38.4L710.1 38.4L708.5 39.0L707.5 40.5L707.0 43.2M717.5 43.2L717.5 44.8L718.0 47.4L719.1 49.0L720.7 49.5L721.7 49.5L723.3 49.0L724.4 47.4L724.9 44.8L724.9 43.2L724.4 40.5L723.3 39.0L721.7 38.4L720.7 38.4L719.1 39.0L718.0 40.5L717.5 43.2M728.1 38.4L735.4 38.4L728.1 49.5L735.4 49.5M747.6 41.1L747.6 40.5L748.1 39.5L748.6 39.0L749.7 38.4L751.8 38.4L752.8 39.0L753.4 39.5L753.9 40.5L753.9 41.6L753.4 42.6L752.3 44.2L747.0 49.5L754.4 49.5M757.6 43.2L757.6 44.8L758.1 47.4L759.2 49.0L760.7 49.5L761.8 49.5L763.4 49.0L764.4 47.4L765.0 44.8L765.0 43.2L764.4 40.5L763.4 39.0L761.8 38.4L760.7 38.4L759.2 39.0L758.1 40.5L757.6 43.2M768.6 41.1L768.6 40.5L769.2 39.5L769.7 39.0L770.8 38.4L772.9 38.4L773.9 39.0L774.4 39.5L775.0 40.5L775.0 41.6L774.4 42.6L773.4 44.2L768.1 49.5L775.5 49.5M778.7 47.4L779.2 48.4L779.7 49.0L781.3 49.5L782.9 49.5L784.5 49.0L785.5 47.9L786.0 46.3L786.0 45.3L785.5 43.7L784.5 42.6L782.9 42.1L781.3 42.1L779.7 42.6L779.2 43.2L779.7 38.4L785.0 38.4M789.2 43.2L789.2 44.8L789.7 47.4L790.8 49.0L792.4 49.5L793.4 49.5L795.0 49.0L796.1 47.4L796.6 44.8L796.6 43.2L796.1 40.5L795.0 39.0L793.4 38.4L792.4 38.4L790.8 39.0L789.7 40.5L789.2 43.2M805.0 45.8L799.7 45.8L805.0 38.4L805.0 45.8M805.0 45.8L805.0 49.5M805.0 45.8L807.7 45.8M810.3 47.4L810.8 48.4L811.3 49.0L812.9 49.5L814.5 49.5L816.1 49.0L817.1 47.9L817.7 46.3L817.7 45.3L817.1 43.7L816.6 43.2L815.6 42.6L814.0 42.6L817.1 38.4L811.3 38.4M820.8 43.2L820.8 44.8L821.4 47.4L822.4 49.0L824.0 49.5L825.1 49.5L826.6 49.0L827.7 47.4L828.2 44.8L828.2 43.2L827.7 40.5L826.6 39.0L825.1 38.4L824.0 38.4L822.4 39.0L821.4 40.5L820.8 43.2"/>
<path d="M140.7 548.3L145.1 548.3M145.1 548.3L145.1 561.5M145.1 548.3L149.5 548.3M152.0 556.5L152.0 557.7L152.7 559.6L153.9 560.9L155.2 561.5L157.1 561.5L158.3 560.9L159.6 559.6L160.2 557.7L160.2 556.5L159.6 554.6L158.3 553.3L157.1 552.7L155.2 552.7L153.9 553.3L152.7 554.6L152.0 556.5M164.6 552.7L164.6 556.5M164.6 556.5L164.6 561.5M164.6 556.5L165.2 554.6L166.5 553.3L167.7 552.7L169.6 552.7M172.1 556.5L172.1 557.7L172.8 559.6L174.0 560.9L175.3 561.5L177.2 561.5L178.4 560.9L179.7 559.6L180.3 557.7L180.3 556.5L179.7 554.6L178.4 553.3L177.2 552.7L175.3 552.7L174.0 553.3L172.8 554.6L172.1 556.5M184.7 552.7L184.7 555.2M184.7 555.2L184.7 561.5M184.7 555.2L186.6 553.3L187.8 552.7L189.7 552.7L191.0 553.3L191.6 555.2L191.6 561.5M195.4 552.7L197.2 552.7M197.2 548.3L197.2 552.7M197.2 552.7L197.2 559.0L197.9 560.9L199.1 561.5L200.4 561.5M197.2 552.7L199.8 552.7M203.5 556.5L203.5 557.7L204.2 559.6L205.4 560.9L206.7 561.5L208.6 561.5L209.8 560.9L211.1 559.6L211.7 557.7L211.7 556.5L211.1 554.6L209.8 553.3L208.6 552.7L206.7 552.7L205.4 553.3L204.2 554.6L203.5 556.5M230.5 545.8L229.3 547.1L228.0 548.9L226.8 551.5L226.1 554.6L226.1 557.1L226.8 560.2L228.0 562.8L229.3 564.6L230.5 565.9M240.6 557.1L234.3 557.1L240.6 548.3L240.6 557.1M240.6 557.1L240.6 561.5M240.6 557.1L243.7 557.1M253.1 557.1L246.9 557.1L253.1 548.3L253.1 557.1M253.1 557.1L253.1 561.5M253.1 557.1L256.3 557.1M259.4 550.2L259.4 551.5L260.0 552.7L261.3 553.3L262.6 553.3L263.8 552.7L264.4 551.5L264.4 550.2L263.8 548.9L262.6 548.3L261.3 548.3L260.0 548.9L259.4 550.2M268.8 561.5L268.8 548.3L277.6 561.5L277.6 548.3M282.0 545.8L283.3 547.1L284.5 548.9L285.8 551.5L286.4 554.6L286.4 557.1L285.8 560.2L284.5 562.8L283.3 564.6L282.0 565.9M301.5 548.3L301.5 561.5M306.5 552.7L306.5 555.2M306.5 555.2L306.5 561.5M306.5 555.2L308.4 553.3L309.7 552.7L311.5 552.7L312.8 553.3L313.4 555.2L313.4 561.5M318.5 552.7L318.5 561.5M317.8 548.3L318.5 547.7L319.1 548.3L318.5 548.9L317.8 548.3M322.2 552.7L324.1 552.7M324.1 548.3L324.1 552.7M324.1 552.7L324.1 559.0L324.7 560.9L326.0 561.5L327.2 561.5M324.1 552.7L326.6 552.7M331.0 552.7L331.0 561.5M330.4 548.3L331.0 547.7L331.6 548.3L331.0 548.9L330.4 548.3M342.9 552.7L342.9 554.6M342.9 554.6L341.7 553.3L340.4 552.7L338.5 552.7L337.3 553.3L336.0 554.6L335.4 556.5L335.4 557.7L336.0 559.6L337.3 560.9L338.5 561.5L340.4 561.5L341.7 560.9L342.9 559.6M342.9 554.6L342.9 559.6M342.9 559.6L342.9 561.5M348.0 548.3L348.0 561.5M353.0 552.7L353.0 561.5M352.4 548.3L353.0 547.7L353.6 548.3L353.0 548.9L352.4 548.3M357.4 552.7L364.3 552.7L357.4 561.5L364.3 561.5M368.1 556.5L368.1 557.7L368.7 559.6L369.9 560.9L371.2 561.5L373.1 561.5L374.3 560.9L375.6 559.6M368.1 556.5L368.7 554.6L369.9 553.3L371.2 552.7L373.1 552.7L374.3 553.3L375.0 554.0L375.6 555.2L375.6 556.5L368.1 556.5M386.9 548.3L386.9 554.6M386.9 554.6L385.6 553.3L384.4 552.7L382.5 552.7L381.3 553.3L380.0 554.6L379.4 556.5L379.4 557.7L380.0 559.6L381.3 560.9L382.5 561.5L384.4 561.5L385.6 560.9L386.9 559.6M386.9 554.6L386.9 559.6M386.9 559.6L386.9 561.5M403.2 550.8L404.5 550.2L406.4 548.3L406.4 561.5M414.5 551.5L414.5 550.8L415.2 549.6L415.8 548.9L417.0 548.3L419.6 548.3L420.8 548.9L421.4 549.6L422.1 550.8L422.1 552.1L421.4 553.3L420.2 555.2L413.9 561.5L422.7 561.5M426.5 548.3L435.3 548.3L426.5 561.5L435.3 561.5M449.7 551.5L449.7 550.8L450.3 549.6L451.0 548.9L452.2 548.3L454.7 548.3L456.0 548.9L456.6 549.6L457.2 550.8L457.2 552.1L456.6 553.3L455.4 555.2L449.1 561.5L457.9 561.5M461.6 554.0L461.6 555.8L462.3 559.0L463.5 560.9L465.4 561.5L466.7 561.5L468.5 560.9L469.8 559.0L470.4 555.8L470.4 554.0L469.8 550.8L468.5 548.9L466.7 548.3L465.4 548.3L463.5 548.9L462.3 550.8L461.6 554.0M474.8 551.5L474.8 550.8L475.5 549.6L476.1 548.9L477.3 548.3L479.8 548.3L481.1 548.9L481.7 549.6L482.4 550.8L482.4 552.1L481.7 553.3L480.5 555.2L474.2 561.5L483.0 561.5M486.8 559.0L487.4 560.2L488.0 560.9L489.9 561.5L491.8 561.5L493.7 560.9L494.9 559.6L495.5 557.7L495.5 556.5L494.9 554.6L493.7 553.3L491.8 552.7L489.9 552.7L488.0 553.3L487.4 554.0L488.0 548.3L494.3 548.3M499.3 554.0L499.3 555.8L499.9 559.0L501.2 560.9L503.1 561.5L504.3 561.5L506.2 560.9L507.5 559.0L508.1 555.8L508.1 554.0L507.5 550.8L506.2 548.9L504.3 548.3L503.1 548.3L501.2 548.9L499.9 550.8L499.3 554.0M518.2 557.1L511.9 557.1L518.2 548.3L518.2 557.1M518.2 557.1L518.2 561.5M518.2 557.1L521.3 557.1M525.1 551.5L525.1 550.8L525.7 549.6L526.3 548.9L527.6 548.3L530.1 548.3L531.3 548.9L532.0 549.6L532.6 550.8L532.6 552.1L532.0 553.3L530.7 555.2L524.4 561.5L533.2 561.5M537.6 559.6L538.3 560.9L540.1 561.5L541.4 561.5L543.3 560.9L544.5 559.0L545.2 555.8L545.2 552.7M545.2 552.7L544.5 550.2L543.3 548.9L541.4 548.3L540.8 548.3L538.9 548.9L537.6 550.2L537.0 552.1L537.0 552.7L537.6 554.6L538.9 555.8L540.8 556.5L541.4 556.5L543.3 555.8L544.5 554.6L545.2 552.7"/>
<path d="M110.5 58.7L110.5 58.3L110.9 57.4L111.3 57.0L112.2 56.6L113.9 56.6L114.7 57.0L115.2 57.4L115.6 58.3L115.6 59.1L115.2 60.0L114.3 61.2L110.0 65.5L116.0 65.5M118.5 60.4L118.5 61.7L119.0 63.8L119.8 65.1L121.1 65.5L122.0 65.5L123.2 65.1L124.1 63.8L124.5 61.7L124.5 60.4L124.1 58.3L123.2 57.0L122.0 56.6L121.1 56.6L119.8 57.0L119.0 58.3L118.5 60.4"/>
<path d="M111.3 155.3L112.2 154.8L113.5 153.6L113.5 162.5M118.5 160.8L119.0 161.7L119.4 162.1L120.7 162.5L122.0 162.5L123.2 162.1L124.1 161.2L124.5 159.9L124.5 159.1L124.1 157.8L123.2 157.0L122.0 156.6L120.7 156.6L119.4 157.0L119.0 157.4L119.4 153.6L123.7 153.6"/>
<path d="M111.3 256.3L112.2 255.8L113.5 254.6L113.5 263.5M118.5 258.4L118.5 259.7L119.0 261.8L119.8 263.1L121.1 263.5L122.0 263.5L123.2 263.1L124.1 261.8L124.5 259.7L124.5 258.4L124.1 256.3L123.2 255.0L122.0 254.6L121.1 254.6L119.8 255.0L119.0 256.3L118.5 258.4"/>
<path d="M118.5 362.3L119.0 363.1L119.4 363.6L120.7 364.0L122.0 364.0L123.2 363.6L124.1 362.7L124.5 361.4L124.5 360.6L124.1 359.3L123.2 358.5L122.0 358.1L120.7 358.1L119.4 358.5L119.0 358.9L119.4 355.1L123.7 355.1"/>
<path d="M118.5 455.4L118.5 456.7L119.0 458.8L119.8 460.1L121.1 460.5L122.0 460.5L123.2 460.1L124.1 458.8L124.5 456.7L124.5 455.4L124.1 453.3L123.2 452.0L122.0 451.6L121.1 451.6L119.8 452.0L119.0 453.3L118.5 455.4"/>
<path d="M531.1 485.6L531.1 494.5L536.2 494.5M537.9 491.1L537.9 491.9L538.3 493.2L539.2 494.1L540.0 494.5L541.3 494.5L542.2 494.1L543.0 493.2L543.4 491.9L543.4 491.1L543.0 489.8L542.2 489.0L541.3 488.6L540.0 488.6L539.2 489.0L538.3 489.8L537.9 491.1M546.4 488.6L546.4 490.2M546.4 490.2L546.4 494.5M546.4 490.2L547.7 489.0L548.5 488.6L549.8 488.6L550.7 489.0L551.1 490.2L551.1 494.5M555.3 497.1L556.2 497.5L557.5 497.5L558.3 497.1L558.7 496.6L559.2 495.4L559.2 493.2M559.2 488.6L559.2 489.8M559.2 489.8L558.3 489.0L557.5 488.6L556.2 488.6L555.3 489.0L554.5 489.8L554.1 491.1L554.1 491.9L554.5 493.2L555.3 494.1L556.2 494.5L557.5 494.5L558.3 494.1L559.2 493.2M559.2 489.8L559.2 493.2M562.6 488.6L562.6 494.5M562.1 485.6L562.6 485.1L563.0 485.6L562.6 486.0L562.1 485.6M565.1 488.6L566.4 488.6M566.4 485.6L566.4 488.6M566.4 488.6L566.4 492.8L566.8 494.1L567.7 494.5L568.5 494.5M566.4 488.6L568.1 488.6M571.1 488.6L571.1 492.8L571.5 494.1L572.3 494.5L573.6 494.5L574.5 494.1L575.7 492.8M575.7 488.6L575.7 492.8M575.7 492.8L575.7 494.5M583.8 485.6L583.8 489.8M583.8 489.8L583.0 489.0L582.1 488.6L580.8 488.6L580.0 489.0L579.1 489.8L578.7 491.1L578.7 491.9L579.1 493.2L580.0 494.1L580.8 494.5L582.1 494.5L583.0 494.1L583.8 493.2M583.8 489.8L583.8 493.2M583.8 493.2L583.8 494.5M586.8 491.1L586.8 491.9L587.2 493.2L588.1 494.1L588.9 494.5L590.2 494.5L591.0 494.1L591.9 493.2M586.8 491.1L587.2 489.8L588.1 489.0L588.9 488.6L590.2 488.6L591.0 489.0L591.5 489.4L591.9 490.2L591.9 491.1L586.8 491.1"/>
<path d="M533.4 529.9L532.6 530.7L531.7 532.0L530.9 533.7L530.5 535.8L530.5 537.5L530.9 539.6L531.7 541.4L532.6 542.6L533.4 543.5M536.4 534.5L536.4 535.8M536.4 535.8L536.4 539.2M536.4 535.8L537.3 535.0L538.1 534.5L539.4 534.5L540.2 535.0L541.1 535.8L541.5 537.1L541.5 538.0L541.1 539.2L540.2 540.1L539.4 540.5L538.1 540.5L537.3 540.1L536.4 539.2M536.4 539.2L536.4 543.5M544.5 534.5L544.5 535.8M544.5 535.8L544.5 539.2M544.5 535.8L545.3 535.0L546.2 534.5L547.5 534.5L548.3 535.0L549.2 535.8L549.6 537.1L549.6 538.0L549.2 539.2L548.3 540.1L547.5 540.5L546.2 540.5L545.3 540.1L544.5 539.2M544.5 539.2L544.5 543.5M552.6 531.6L552.6 535.8M552.6 535.8L552.6 539.2M552.6 535.8L553.4 535.0L554.3 534.5L555.5 534.5L556.4 535.0L557.2 535.8L557.7 537.1L557.7 538.0L557.2 539.2L556.4 540.1L555.5 540.5L554.3 540.5L553.4 540.1L552.6 539.2M552.6 539.2L552.6 540.5M559.8 534.5L562.3 540.5L564.9 534.5M566.6 543.5L574.2 529.9M576.8 531.6L576.8 536.2M576.8 536.2L576.8 540.5M576.8 536.2L578.1 535.0L578.9 534.5L580.2 534.5L581.0 535.0L581.5 536.2L581.5 540.5M584.9 534.5L584.9 537.1M584.9 537.1L584.9 540.5M584.9 537.1L585.3 535.8L586.1 535.0L587.0 534.5L588.3 534.5M590.0 529.9L590.8 530.7L591.7 532.0L592.5 533.7L592.9 535.8L592.9 537.5L592.5 539.6L591.7 541.4L590.8 542.6L590.0 543.5"/>
<path d="M97.0 301.5L93.6 300.2M97.0 301.5L91.5 299.4M97.0 301.5L88.1 298.1M93.6 300.2L91.5 299.4M93.6 300.2L88.1 298.1M94.0 300.2L94.0 296.0M91.5 299.4L88.1 298.1M88.1 298.1L91.5 296.8M88.1 298.1L93.6 296.0M88.1 298.1L97.0 294.7M91.5 296.8L93.6 296.0M91.5 296.8L97.0 294.7M93.6 296.0L97.0 294.7M88.1 292.6L97.0 292.6M91.0 290.0L91.0 288.8M88.1 288.8L91.0 288.8M91.0 288.8L95.3 288.8L96.6 288.3L97.0 287.5L97.0 286.6M91.0 288.8L91.0 287.1M91.0 284.1L97.0 284.1M88.1 284.5L87.7 284.1L88.1 283.6L88.5 284.1L88.1 284.5M91.0 281.5L91.0 280.2M88.1 280.2L91.0 280.2M91.0 280.2L95.3 280.2L96.6 279.8L97.0 279.0L97.0 278.1M91.0 280.2L91.0 278.6M91.0 275.6L95.3 275.6L96.6 275.1L97.0 274.3L97.0 273.0L96.6 272.2L95.3 270.9M91.0 270.9L95.3 270.9M95.3 270.9L97.0 270.9M88.1 262.8L92.3 262.8M92.3 262.8L91.5 263.7L91.0 264.5L91.0 265.8L91.5 266.6L92.3 267.5L93.6 267.9L94.5 267.9L95.7 267.5L96.6 266.6L97.0 265.8L97.0 264.5L96.6 263.7L95.7 262.8M92.3 262.8L95.7 262.8M95.7 262.8L97.0 262.8M93.6 259.9L94.5 259.9L95.7 259.4L96.6 258.6L97.0 257.7L97.0 256.4L96.6 255.6L95.7 254.8M93.6 259.9L92.3 259.4L91.5 258.6L91.0 257.7L91.0 256.4L91.5 255.6L91.9 255.2L92.8 254.8L93.6 254.8L93.6 259.9M86.4 242.0L87.2 242.8L88.5 243.7L90.2 244.6L92.3 245.0L94.0 245.0L96.2 244.6L97.8 243.7L99.1 242.8L100.0 242.0M88.1 239.0L95.3 239.0M95.3 239.0L97.0 239.0M95.3 239.0L93.6 237.3M93.6 237.3L91.0 234.8M93.6 237.3L97.0 234.3M91.0 231.8L92.8 231.8M92.8 231.8L97.0 231.8M92.8 231.8L91.5 230.5L91.0 229.7L91.0 228.4L91.5 227.6L92.8 227.1M92.8 227.1L97.0 227.1M92.8 227.1L91.5 225.8L91.0 225.0L91.0 223.7L91.5 222.9L92.8 222.4L97.0 222.4M86.4 219.5L87.2 218.6L88.5 217.8L90.2 216.9L92.3 216.5L94.0 216.5L96.2 216.9L97.8 217.8L99.1 218.6L100.0 219.5"/>
<path d="M112.8 474.6L120.5 474.6M124.8 471.2L125.6 470.8L126.9 469.5L126.9 478.5M133.3 471.2L134.2 470.8L135.5 469.5L135.5 478.5M140.6 476.8L141.0 477.6L141.5 478.1L142.8 478.5L144.0 478.5L145.3 478.1L146.2 477.2L146.6 475.9L146.6 475.1L146.2 473.8L145.3 472.9L144.0 472.5L142.8 472.5L141.5 472.9L141.0 473.4L141.5 469.5L145.8 469.5"/>
<path d="M236.2 474.6L243.9 474.6M248.2 471.2L249.1 470.8L250.3 469.5L250.3 478.5M256.8 471.2L257.6 470.8L258.9 469.5L258.9 478.5M264.0 473.4L264.0 474.6L264.5 476.8L265.3 478.1L266.6 478.5L267.5 478.5L268.8 478.1L269.6 476.8L270.0 474.6L270.0 473.4L269.6 471.2L268.8 469.9L267.5 469.5L266.6 469.5L265.3 469.9L264.5 471.2L264.0 473.4"/>
<path d="M359.7 474.6L367.4 474.6M371.6 471.2L372.5 470.8L373.8 469.5L373.8 478.5M378.9 473.4L378.9 474.6L379.3 476.8L380.2 478.1L381.5 478.5L382.3 478.5L383.6 478.1L384.5 476.8L384.9 474.6L384.9 473.4L384.5 471.2L383.6 469.9L382.3 469.5L381.5 469.5L380.2 469.9L379.3 471.2L378.9 473.4M387.5 476.8L387.9 477.6L388.3 478.1L389.6 478.5L390.9 478.5L392.2 478.1L393.0 477.2L393.5 475.9L393.5 475.1L393.0 473.8L392.2 472.9L390.9 472.5L389.6 472.5L388.3 472.9L387.9 473.4L388.3 469.5L392.6 469.5"/>
<path d="M483.1 474.6L490.8 474.6M495.1 471.2L495.9 470.8L497.2 469.5L497.2 478.5M502.3 473.4L502.3 474.6L502.8 476.8L503.6 478.1L504.9 478.5L505.8 478.5L507.1 478.1L507.9 476.8L508.3 474.6L508.3 473.4L507.9 471.2L507.1 469.9L505.8 469.5L504.9 469.5L503.6 469.9L502.8 471.2L502.3 473.4M510.9 473.4L510.9 474.6L511.3 476.8L512.2 478.1L513.5 478.5L514.3 478.5L515.6 478.1L516.5 476.8L516.9 474.6L516.9 473.4L516.5 471.2L515.6 469.9L514.3 469.5L513.5 469.5L512.2 469.9L511.3 471.2L510.9 473.4"/>
<path d="M610.8 474.6L618.5 474.6M621.9 477.2L622.4 478.1L623.6 478.5L624.5 478.5L625.8 478.1L626.6 476.8L627.1 474.6L627.1 472.5M627.1 472.5L626.6 470.8L625.8 469.9L624.5 469.5L624.1 469.5L622.8 469.9L621.9 470.8L621.5 472.1L621.5 472.5L621.9 473.8L622.8 474.6L624.1 475.1L624.5 475.1L625.8 474.6L626.6 473.8L627.1 472.5M630.1 476.8L630.5 477.6L630.9 478.1L632.2 478.5L633.5 478.5L634.8 478.1L635.6 477.2L636.0 475.9L636.0 475.1L635.6 473.8L634.8 472.9L633.5 472.5L632.2 472.5L630.9 472.9L630.5 473.4L630.9 469.5L635.2 469.5"/>
<path d="M734.2 474.6L741.9 474.6M745.4 477.2L745.8 478.1L747.1 478.5L747.9 478.5L749.2 478.1L750.1 476.8L750.5 474.6L750.5 472.5M750.5 472.5L750.1 470.8L749.2 469.9L747.9 469.5L747.5 469.5L746.2 469.9L745.4 470.8L744.9 472.1L744.9 472.5L745.4 473.8L746.2 474.6L747.5 475.1L747.9 475.1L749.2 474.6L750.1 473.8L750.5 472.5M753.5 473.4L753.5 474.6L753.9 476.8L754.8 478.1L756.1 478.5L756.9 478.5L758.2 478.1L759.0 476.8L759.5 474.6L759.5 473.4L759.0 471.2L758.2 469.9L756.9 469.5L756.1 469.5L754.8 469.9L753.9 471.2L753.5 473.4"/>
<path d="M857.7 474.6L865.4 474.6M869.6 473.8L868.8 474.6L868.4 475.5L868.4 476.8L868.8 477.6L869.2 478.1L870.5 478.5L872.2 478.5L873.5 478.1L873.9 477.6L874.3 476.8L874.3 475.5L873.9 474.6L873.1 473.8L871.8 473.4L870.1 472.9L869.2 472.5L868.8 471.7L868.8 470.8L869.2 469.9L870.5 469.5L872.2 469.5L873.5 469.9L873.9 470.8L873.9 471.7L873.5 472.5L872.6 472.9M869.6 473.8L870.9 473.4L872.6 472.9M869.6 473.8L872.6 472.9M876.9 476.8L877.3 477.6L877.8 478.1L879.1 478.5L880.3 478.5L881.6 478.1L882.5 477.2L882.9 475.9L882.9 475.1L882.5 473.8L881.6 472.9L880.3 472.5L879.1 472.5L877.8 472.9L877.3 473.4L877.8 469.5L882.0 469.5"/>
<path d="M981.1 474.6L988.8 474.6M993.1 473.8L992.2 474.6L991.8 475.5L991.8 476.8L992.2 477.6L992.6 478.1L993.9 478.5L995.6 478.5L996.9 478.1L997.3 477.6L997.8 476.8L997.8 475.5L997.3 474.6L996.5 473.8L995.2 473.4L993.5 472.9L992.6 472.5L992.2 471.7L992.2 470.8L992.6 469.9L993.9 469.5L995.6 469.5L996.9 469.9L997.3 470.8L997.3 471.7L996.9 472.5L996.1 472.9M993.1 473.8L994.4 473.4L996.1 472.9M993.1 473.8L996.1 472.9M1000.3 473.4L1000.3 474.6L1000.8 476.8L1001.6 478.1L1002.9 478.5L1003.8 478.5L1005.1 478.1L1005.9 476.8L1006.3 474.6L1006.3 473.4L1005.9 471.2L1005.1 469.9L1003.8 469.5L1002.9 469.5L1001.6 469.9L1000.8 471.2L1000.3 473.4"/>
<path d="M115.0 520.6L122.7 520.6M127.0 517.2L127.9 516.8L129.2 515.5L129.2 524.5M134.7 524.1L135.2 523.6L135.6 524.1L135.2 524.5L134.7 524.1M138.6 519.4L138.6 520.6L139.0 522.8L139.9 524.1L141.1 524.5L142.0 524.5L143.3 524.1L144.1 522.8L144.6 520.6L144.6 519.4L144.1 517.2L143.3 515.9L142.0 515.5L141.1 515.5L139.9 515.9L139.0 517.2L138.6 519.4"/>
<path d="M331.0 520.6L338.7 520.6M341.7 519.4L341.7 520.6L342.2 522.8L343.0 524.1L344.3 524.5L345.2 524.5L346.4 524.1L347.3 522.8L347.7 520.6L347.7 519.4L347.3 517.2L346.4 515.9L345.2 515.5L344.3 515.5L343.0 515.9L342.2 517.2L341.7 519.4M350.7 524.1L351.2 523.6L351.6 524.1L351.2 524.5L350.7 524.1M354.6 522.8L355.0 523.6L355.4 524.1L356.7 524.5L358.0 524.5L359.3 524.1L360.1 523.2L360.6 521.9L360.6 521.1L360.1 519.8L359.3 518.9L358.0 518.5L356.7 518.5L355.4 518.9L355.0 519.4L355.4 515.5L359.7 515.5"/>
<path d="M552.4 519.4L552.4 520.6L552.8 522.8L553.7 524.1L555.0 524.5L555.8 524.5L557.1 524.1L557.9 522.8L558.4 520.6L558.4 519.4L557.9 517.2L557.1 515.9L555.8 515.5L555.0 515.5L553.7 515.9L552.8 517.2L552.4 519.4M561.4 524.1L561.8 523.6L562.2 524.1L561.8 524.5L561.4 524.1M565.2 519.4L565.2 520.6L565.7 522.8L566.5 524.1L567.8 524.5L568.6 524.5L569.9 524.1L570.8 522.8L571.2 520.6L571.2 519.4L570.8 517.2L569.9 515.9L568.6 515.5L567.8 515.5L566.5 515.9L565.7 517.2L565.2 519.4"/>
<path d="M768.4 519.4L768.4 520.6L768.8 522.8L769.7 524.1L771.0 524.5L771.8 524.5L773.1 524.1L773.9 522.8L774.4 520.6L774.4 519.4L773.9 517.2L773.1 515.9L771.8 515.5L771.0 515.5L769.7 515.9L768.8 517.2L768.4 519.4M777.4 524.1L777.8 523.6L778.2 524.1L777.8 524.5L777.4 524.1M781.2 522.8L781.7 523.6L782.1 524.1L783.4 524.5L784.6 524.5L785.9 524.1L786.8 523.2L787.2 521.9L787.2 521.1L786.8 519.8L785.9 518.9L784.6 518.5L783.4 518.5L782.1 518.9L781.7 519.4L782.1 515.5L786.4 515.5"/>
<path d="M985.0 517.2L985.9 516.8L987.2 515.5L987.2 524.5M992.7 524.1L993.2 523.6L993.6 524.1L993.2 524.5L992.7 524.1M996.6 519.4L996.6 520.6L997.0 522.8L997.9 524.1L999.1 524.5L1000.0 524.5L1001.3 524.1L1002.1 522.8L1002.6 520.6L1002.6 519.4L1002.1 517.2L1001.3 515.9L1000.0 515.5L999.1 515.5L997.9 515.9L997.0 517.2L996.6 519.4"/>
</g>
<g fill="none" stroke="#000" stroke-width="1" shape-rendering="crispEdges">
<path d="M375.1 61.4L375.1 62.4L375.5 64.1L376.1 65.2L377.2 65.5L377.8 65.5L378.9 65.2L379.5 64.1L379.9 62.4L379.9 61.4L379.5 59.7L378.9 58.7L377.8 58.4L377.2 58.4L376.1 58.7L375.5 59.7L375.1 61.4"/>
<path d="M142.2 111.5L142.2 112.5L142.5 114.2L143.2 115.2L144.2 115.5L144.8 115.5L145.8 115.2L146.5 114.2L146.8 112.5L146.8 111.5L146.5 109.8L145.8 108.8L144.8 108.5L144.2 108.5L143.2 108.8L142.5 109.8L142.2 111.5"/>
<path d="M142.2 227.5L142.2 228.5L142.5 230.2L143.2 231.2L144.2 231.5L144.8 231.5L145.8 231.2L146.5 230.2L146.8 228.5L146.8 227.5L146.5 225.8L145.8 224.8L144.8 224.5L144.2 224.5L143.2 224.8L142.5 225.8L142.2 227.5"/>
<path d="M344.5 213.7L344.4 214.7L344.5 216.4L345.0 217.5L346.0 218.0L346.6 218.0L347.7 217.9L348.5 217.0L349.0 215.3L349.2 214.3L349.1 212.6L348.6 211.6L347.6 211.1L346.9 211.0L345.9 211.2L345.1 212.1L344.5 213.7"/>
<path d="M972.2 169.5L972.2 170.5L972.5 172.2L973.2 173.2L974.2 173.5L974.8 173.5L975.8 173.2L976.5 172.2L976.8 170.5L976.8 169.5L976.5 167.8L975.8 166.8L974.8 166.5L974.2 166.5L973.2 166.8L972.5 167.8L972.2 169.5"/>
<path d="M619.8 163.8L620.5 163.5L621.5 162.5L621.5 169.5M625.5 165.5L625.5 166.5L625.8 168.2L626.5 169.2L627.5 169.5L628.2 169.5L629.2 169.2L629.9 168.2L630.2 166.5L630.2 165.5L629.9 163.8L629.2 162.8L628.2 162.5L627.5 162.5L626.5 162.8L625.8 163.8L625.5 165.5"/>
<path d="M797.6 189.4L798.3 189.3L799.6 188.7L797.2 195.3M802.3 192.9L802.0 193.8L801.7 195.5L802.0 196.7L802.9 197.4L803.5 197.6L804.5 197.6L805.5 196.9L806.4 195.4L806.8 194.5L807.0 192.8L806.7 191.6L805.9 191.0L805.3 190.7L804.2 190.7L803.2 191.4L802.3 192.9"/>
<path d="M957.2 312.1L957.9 312.1L959.3 311.6L956.3 318.0M961.7 316.1L961.2 317.0L960.8 318.6L961.0 319.8L961.8 320.6L962.4 320.8L963.4 321.0L964.5 320.3L965.5 319.0L965.9 318.1L966.3 316.4L966.1 315.2L965.4 314.5L964.8 314.2L963.7 314.1L962.7 314.7L961.7 316.1"/>
<path d="M907.9 360.1L907.7 361.1L907.8 362.8L908.2 363.9L909.2 364.4L909.8 364.6L910.9 364.4L911.7 363.5L912.3 361.9L912.5 360.9L912.5 359.2L912.0 358.1L911.1 357.6L910.4 357.5L909.3 357.7L908.5 358.5L907.9 360.1"/>
<path d="M352.3 378.0L353.2 378.5L354.8 379.1L356.0 379.0L356.8 378.3L357.2 377.7L357.4 376.7L356.8 375.6L355.6 374.5L354.7 374.0L353.1 373.4L351.9 373.5L351.1 374.2L350.7 374.8L350.5 375.8L351.1 376.9L352.3 378.0"/>
<path d="M264.4 401.2L265.2 401.9L266.7 402.7L267.9 402.8L268.8 402.3L269.2 401.7L269.6 400.8L269.3 399.6L268.2 398.3L267.4 397.6L265.9 396.8L264.7 396.7L263.8 397.2L263.4 397.7L263.0 398.7L263.3 399.9L264.4 401.2"/>
<path d="M585.9 437.1L586.7 437.7L588.2 438.4L589.5 438.4L590.3 437.8L590.7 437.2L591.0 436.2L590.6 435.1L589.4 433.8L588.6 433.3L587.0 432.6L585.8 432.6L584.9 433.2L584.5 433.7L584.2 434.8L584.7 435.9L585.9 437.1"/>
<path d="M905.1 439.5L911.1 439.5M914.5 436.8L915.2 436.5L916.2 435.5L916.2 442.5M920.2 438.5L920.2 439.5L920.5 441.2L921.2 442.2L922.2 442.5L922.9 442.5L923.9 442.2L924.5 441.2L924.9 439.5L924.9 438.5L924.5 436.8L923.9 435.8L922.9 435.5L922.2 435.5L921.2 435.8L920.5 436.8L920.2 438.5"/>
</g>
</svg></body></html>
